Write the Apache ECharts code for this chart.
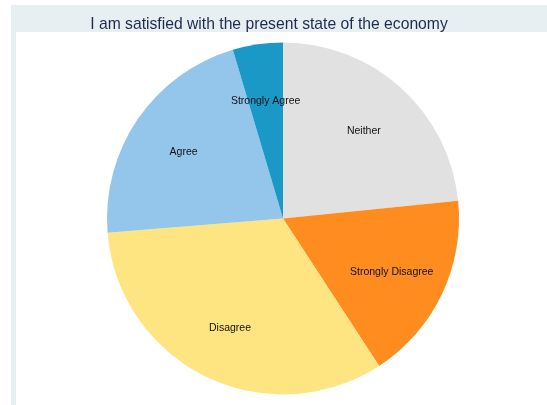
<!DOCTYPE html>
<html>
<head>
<meta charset="utf-8">
<script src="https://cdn.jsdelivr.net/npm/echarts@6/dist/echarts.min.js"></script>
<style>
  html, body { margin: 0; padding: 0; background: #fff; }
  #chart { width: 547px; height: 405px; }
</style>
</head>
<body>
<div id="chart"></div>
<script>
const titleText = 'I am satisfied with the present state of the economy'
const categories = ['Neither', 'Strongly Disagree', 'Disagree', 'Agree', 'Strongly Agree']
const shares = [23.4, 17.4, 32.9, 21.7, 4.6]
const colors = ['#e1e1e1', '#ff8c1e', '#ffe582', '#94c6ec', '#1a99c6']

const pieData = categories.map(function (name, i) {
  return { name: name, value: shares[i] }
})

const chart = echarts.init(document.getElementById('chart'))

chart.setOption({
  animation: false,
  color: colors,
  title: {
    text: titleText,
    left: 264,
    top: 12,
    textAlign: 'center',
    textStyle: {
      fontFamily: 'Liberation Sans',
      fontSize: 15.7,
      fontWeight: 'normal',
      color: '#1e2b4c'
    }
  },
  graphic: [
    { type: 'rect', z: -10, shape: { x: 11, y: 5, width: 536, height: 400 }, style: { fill: '#e8eff2' } },
    { type: 'rect', z: -9, shape: { x: 16, y: 32, width: 531, height: 373 }, style: { fill: '#ffffff' } }
  ],
  series: [
    {
      // the slices
      type: 'pie',
      center: [283, 218.5],
      radius: [0, 176],
      startAngle: 90,
      clockwise: true,
      silent: true,
      label: { show: false },
      labelLine: { show: false },
      data: pieData
    },
    {
      // transparent ring so the labels sit at 2/3 of the radius
      type: 'pie',
      center: [283, 220],
      radius: [59, 176],
      startAngle: 90,
      clockwise: true,
      silent: true,
      itemStyle: { color: 'rgba(0,0,0,0)' },
      label: {
        show: true,
        position: 'inside',
        formatter: '{b}',
        fontFamily: 'Liberation Sans',
        fontSize: 10.5,
        color: '#111'
      },
      labelLine: { show: false },
      data: pieData
    }
  ]
})
</script>
</body>
</html>
